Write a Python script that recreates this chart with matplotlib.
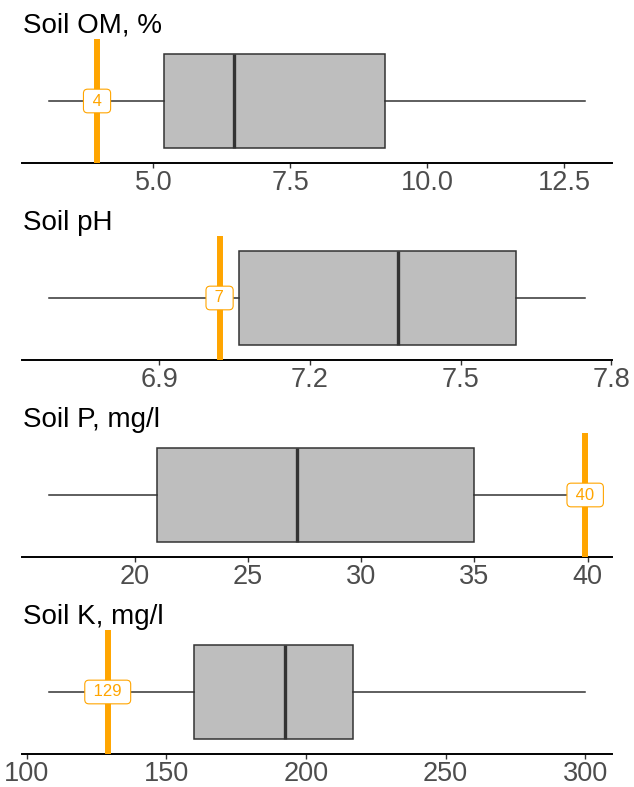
import matplotlib
matplotlib.use("Agg")
import matplotlib.pyplot as plt

plt.rcParams['font.family'] = ['Liberation Sans', 'DejaVu Sans']

# --- data ---
titles = ["Soil OM, %", "Soil pH", "Soil P, mg/l", "Soil K, mg/l"]
whis_lo = [3.09, 6.68, 16.2, 107.9]
q1 = [5.19, 7.058, 21.0, 159.8]
median = [6.47, 7.375, 27.14, 192.6]
q3 = [9.23, 7.61, 34.96, 216.7]
whis_hi = [12.88, 7.748, 39.5, 300.0]
ref_value = [3.97, 7.02, 39.89, 129.0]
ref_label = ["4", "7", "40", "129"]
tick_values = [
    [5.0, 7.5, 10.0, 12.5],
    [6.9, 7.2, 7.5, 7.8],
    [20, 25, 30, 35, 40],
    [100, 150, 200, 250, 300],
]
tick_labels = [
    ["5.0", "7.5", "10.0", "12.5"],
    ["6.9", "7.2", "7.5", "7.8"],
    ["20", "25", "30", "35", "40"],
    ["100", "150", "200", "250", "300"],
]

W, H = 634, 787
fig = plt.figure(figsize=(W / 100, H / 100), dpi=100)

for i in range(4):
    # panel geometry in pixels (axis line at bottom, orange line spans the height)
    y_axis = 163 + 197 * i
    ax = fig.add_axes([22 / W, 1 - y_axis / H, 590 / W, 124 / H])

    stats = [{
        'whislo': whis_lo[i], 'q1': q1[i], 'med': median[i],
        'q3': q3[i], 'whishi': whis_hi[i], 'fliers': [],
    }]
    ax.bxp(stats, positions=[0], widths=0.75, orientation='horizontal',
           patch_artist=True, showcaps=False, showfliers=False,
           boxprops=dict(facecolor='#BEBEBE', edgecolor='#333333', linewidth=1.1),
           medianprops=dict(color='#333333', linewidth=2.4),
           whiskerprops=dict(color='#333333', linewidth=1.1))

    ax.axvline(ref_value[i], color='#FFA500', linewidth=4.3, zorder=5)
    # spaces widen the label box like ggplot's geom_label
    ax.text(ref_value[i], 0, " " + ref_label[i] + " ", color='#FFA500',
            fontsize=12, ha='center', va='center', zorder=6,
            bbox=dict(boxstyle='round,pad=0.26,rounding_size=0.25',
                      facecolor='white', edgecolor='#FFA500', linewidth=0.8))

    lo = min(whis_lo[i], ref_value[i])
    hi = max(whis_hi[i], ref_value[i])
    span = hi - lo
    ax.set_xlim(lo - 0.05 * span, hi + 0.05 * span)
    ax.set_ylim(-0.49, 0.49)

    ax.set_xticks(tick_values[i])
    ax.set_xticklabels(tick_labels[i])
    ax.set_yticks([])
    for side in ['left', 'right', 'top']:
        ax.spines[side].set_visible(False)
    ax.spines['bottom'].set_linewidth(1.4)
    ax.spines['bottom'].set_color('black')
    ax.tick_params(axis='x', length=3.6, width=1.0, color='#333333',
                   labelsize=19.5, labelcolor='#4D4D4D', pad=1.5)

    ax.annotate(titles[i], xy=(0, 1), xycoords='axes fraction',
                xytext=(1, 6), textcoords='offset pixels',
                ha='left', va='baseline', fontsize=20, color='black')

fig.savefig("out.png", dpi=100)
